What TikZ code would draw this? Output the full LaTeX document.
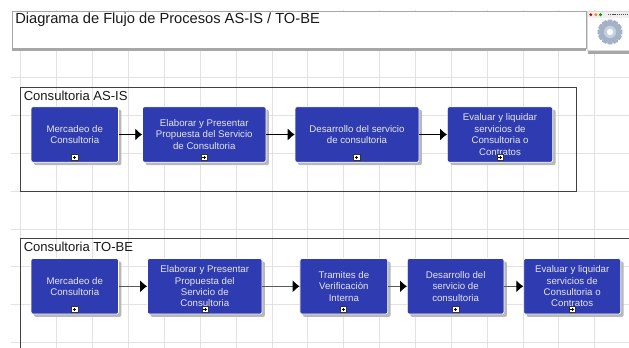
\documentclass[tikz,border=0pt]{standalone}
\usepackage{fontspec}
\setmainfont{Liberation Sans}
\usetikzlibrary{arrows.meta,shadows}
\definecolor{procblue}{HTML}{2F3CB1}
\definecolor{gridc}{HTML}{E2E2E2}
\definecolor{gearout}{HTML}{A3B2C6}
\definecolor{gearin}{HTML}{C6D0DC}
\tikzset{
  px/.style={x=0.75pt,y=-0.75pt},
  gridline/.style={draw=gridc,line width=0.75pt},
  frameline/.style={draw=black!75,line width=0.6pt},
  framelabel/.style={anchor=west,inner sep=0pt,font=\fontsize{9.8pt}{11pt}\selectfont,text=black!90},
  titlebox/.style={draw=black!35,line width=0.75pt,fill=white,
    drop shadow={shadow xshift=0pt,shadow yshift=-2.2pt,fill=black!35,opacity=1}},
  procbox/.style={draw=white,line width=0.5pt,fill=procblue,rounded corners=1.6pt,
    minimum height=41.6pt,inner sep=0pt,align=center,text=black!10!white,
    font=\fontsize{7.25pt}{8.6pt}\selectfont,
    drop shadow={shadow xshift=2.2pt,shadow yshift=-2.2pt,fill=black!28,opacity=1}},
  plusbox/.style={draw=black!80,line width=0.4pt,fill=white,minimum size=4.6pt,inner sep=0pt,
    path picture={\draw[black,line width=0.5pt]
      ([xshift=-1.3pt]path picture bounding box.center)--([xshift=1.3pt]path picture bounding box.center)
      ([yshift=-1.3pt]path picture bounding box.center)--([yshift=1.3pt]path picture bounding box.center);}},
  flow/.style={draw=black,line width=0.6pt,-{Latex[length=5.2pt,width=9pt]}},
  flowb/.style={draw=black!65,line width=0.7pt,-{Latex[length=5.2pt,width=9pt,black]}},
}
\begin{document}
\begin{tikzpicture}[px]
\useasboundingbox (0,0) rectangle (629,348);
\fill[white] (0,0) rectangle (629,348);
% grid
\foreach \gx in {20.7,56.7,92.7,128.6,164.4,200.3,236.2,272,307.8,343.4,379.3,415.3,451.2,487,523,558.7,594.6}
  \draw[gridline] (\gx,10) -- (\gx,348);
\foreach \gy in {77.7,115.7,153.7,191.7,229.5,267,305,342.8}
  \draw[gridline] (11,\gy) -- (629,\gy);
% title
\node[titlebox,minimum width=430.5pt,minimum height=27.4pt,inner sep=0pt] (title) at (299,30) {};
\node[anchor=west,inner sep=0pt,font=\fontsize{11pt}{14pt}\selectfont,text=black!90] (titletext) at (15,20) {Diagrama de Flujo de Procesos AS-IS / TO-BE};
% icon
\node[titlebox,draw=black!15,minimum width=32pt,minimum height=29pt,inner sep=0pt,anchor=north west] (icon) at (587,11.5) {};
\fill[black!6] (588,12) rectangle (629,18);
\fill[red!80!black] (590.8,14.7) circle (1.6);
\fill[orange] (595.8,14.7) circle (1.6);
\fill[green!60!black] (600.5,14.7) circle (1.6);
\draw[black!70,line width=1pt,dash pattern=on 1pt off .6pt] (608,14.7) -- (628,14.7);
\begin{scope}[shift={(610,32)}]
  \foreach \a in {0,30,...,330}
    \fill[gearout,rotate=\a] (-2.3,-12.4) -- (2.3,-12.4) -- (3.2,-8) -- (-3.2,-8) -- cycle;
  \fill[gearout] (0,0) circle (9.8);
  \fill[gearin] (0,0) circle (6.2);
  \fill[white] (0,0) circle (3.2);
\end{scope}
% frames
\draw[frameline] (20.7,87) rectangle (576.7,191.3);
\begin{scope}
  \clip (0,0) rectangle (629,348);
  \draw[frameline] (20.7,238.7) rectangle (640,360);
\end{scope}
\node[framelabel] (lab1) at (23.5,95.5) {Consultoria AS-IS};
\node[framelabel] (lab2) at (23.5,247) {Consultoria TO-BE};
% row 1
\node[procbox,minimum width=65.6pt] (a1) at (74.75,134.5) {Mercadeo de\\Consultoria};
\node[procbox,minimum width=92.6pt] (a2) at (204.25,134.5) {Elaborar y Presentar\\Propuesta del Servicio\\de Consultoria};
\node[procbox,minimum width=93pt] (a3) at (357,134.5) {Desarrollo del servicio\\de consultoria};
\node[procbox,minimum width=79pt] (a4) at (500,134.5) {Evaluar y liquidar\\servicios de\\Consultoria o\\Contratos};
% row 2
\node[procbox,minimum width=65.6pt] (b1) at (74.75,286.3) {Mercadeo de\\Consultoria};
\node[procbox,minimum width=85.9pt] (b2) at (204.75,286.3) {Elaborar y Presentar\\Propuesta del\\Servicio de\\Consultoria};
\node[procbox,minimum width=65.8pt] (b3) at (343.85,286.3) {Tramites de\\Verificaciòn\\Interna};
\node[procbox,minimum width=72.5pt] (b4) at (455.65,286.3) {Desarrollo del\\servicio de\\consultoria};
\node[procbox,minimum width=72.8pt] (b5) at (572.2,286.3) {Evaluar y liquidar\\servicios de\\Consultoria o\\Contratos};
% expand markers
\foreach \nm/\mx/\my in {pa1/74.7/157.6,pa2/204/157.6,pa3/356.7/157.6,pa4/500/157.6,
  pb1/74.7/309.3,pb2/205/309.3,pb3/343.3/309.3,pb4/455.7/309.3,pb5/572/309.3}
  \node[plusbox] (\nm) at (\mx,\my) {};
% connectors
\draw[flow] (a1) -- (a2);
\draw[flow] (a2) -- (a3);
\draw[flow] (a3) -- (a4);
\draw[flowb] (b1) -- (b2);
\draw[flowb] (b2) -- (b3);
\draw[flowb] (b3) -- (b4);
\draw[flowb] (b4) -- (b5);
\end{tikzpicture}
\end{document}
